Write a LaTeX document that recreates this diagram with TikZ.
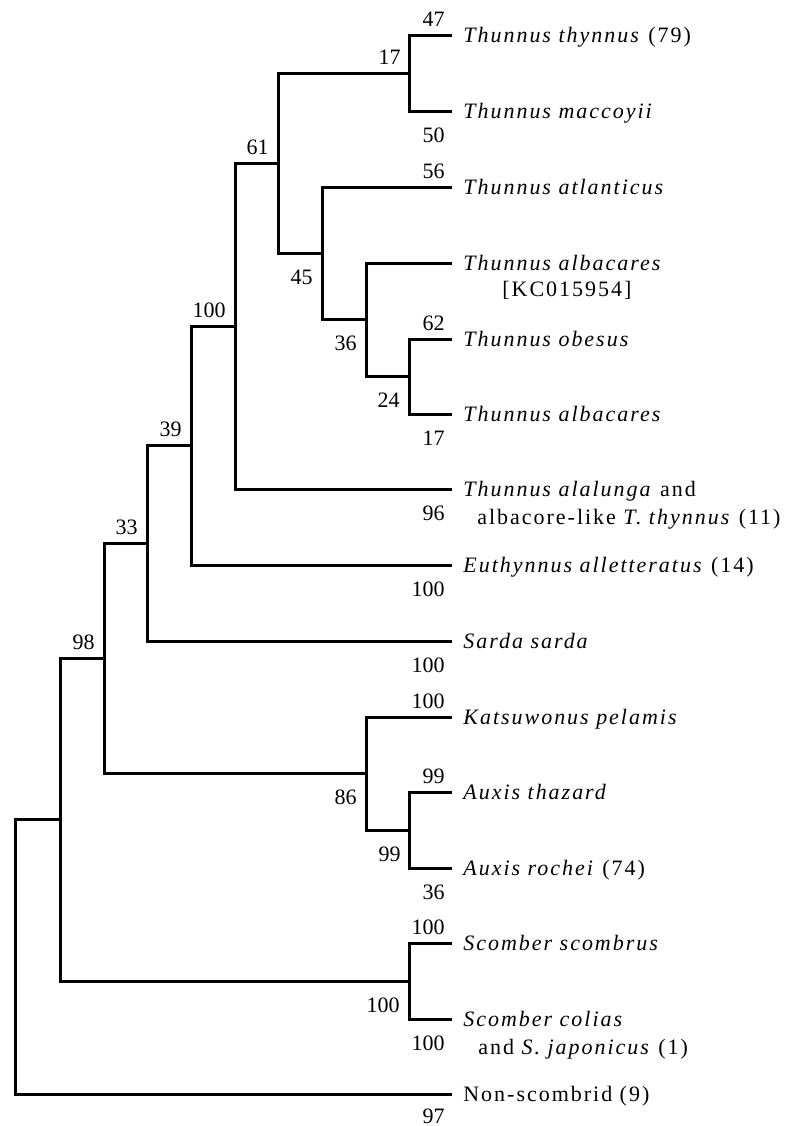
\documentclass[tikz,border=0pt]{standalone}
\usepackage{fontspec}
\setmainfont{Liberation Serif}
\newfontfamily\taxfont{Liberation Serif}[LetterSpace=9]
\usetikzlibrary{positioning}

\tikzset{
  branch/.style={line width=1.5pt},
  taxon/.style={anchor=base west,inner sep=0pt,xshift=5.5pt,yshift=-3.5pt,
    font=\taxfont\fontsize{11}{14}\selectfont},
  taxonline/.style={anchor=base west,inner sep=0pt,
    font=\taxfont\fontsize{11}{14}\selectfont},
  supup/.style={anchor=base east,inner sep=0pt,yshift=4.5pt,
    font=\fontsize{11}{13}\selectfont},
  supdown/.style={anchor=base east,inner sep=0pt,yshift=-15.5pt,
    font=\fontsize{11}{13}\selectfont},
}

\begin{document}
\begin{tikzpicture}[x=.5pt,y=-.5pt]
\useasboundingbox (0,0) rectangle (808,1126);
% tips
\coordinate (t1) at (452,35);
\coordinate (t2) at (452,111);
\coordinate (t3) at (452,187);
\coordinate (t4) at (452,263);
\coordinate (t5) at (452,339);
\coordinate (t6) at (452,414);
\coordinate (t7) at (452,489);
\coordinate (t8) at (452,565);
\coordinate (t9) at (452,641);
\coordinate (t10) at (452,717);
\coordinate (t11) at (452,792);
\coordinate (t12) at (452,868);
\coordinate (t13) at (452,943);
\coordinate (t14) at (452,1019);
\coordinate (t15) at (452,1094);
% inner nodes
\coordinate (g) at (409,73);
\coordinate (j) at (409,376.5);
\coordinate (i) at (366,319.7);
\coordinate (h) at (322,253.4);
\coordinate (f) at (278,163.2);
\coordinate (e) at (235,326);
\coordinate (d) at (191,445.5);
\coordinate (c) at (147,543);
\coordinate (l) at (409,830);
\coordinate (k) at (366,773.5);
\coordinate (b) at (104,658);
\coordinate (m) at (409,981);
\coordinate (a) at (60,819.5);
\coordinate (r) at (15,957);
% branches
\draw[branch] (t1) -| (g) |- (t2);
\draw[branch] (t5) -| (j) |- (t6);
\draw[branch] (t4) -| (i) |- (j);
\draw[branch] (t3) -| (h) |- (i);
\draw[branch] (g) -| (f) |- (h);
\draw[branch] (f) -| (e) |- (t7);
\draw[branch] (e) -| (d) |- (t8);
\draw[branch] (d) -| (c) |- (t9);
\draw[branch] (t11) -| (l) |- (t12);
\draw[branch] (t10) -| (k) |- (l);
\draw[branch] (c) -| (b) |- (k);
\draw[branch] (t13) -| (m) |- (t14);
\draw[branch] (b) -| (a) |- (m);
\draw[branch] (a) -| (r) |- (t15);
% taxa
\node[taxon] (n1) at (t1) {\textit{Thunnus thynnus} (79)};
\node[taxon] (n2) at (t2) {\textit{Thunnus maccoyii}};
\node[taxon] (n3) at (t3) {\textit{Thunnus atlanticus}};
\node[taxon] (n4) at (t4) {\textit{Thunnus albacares}};
\node[taxonline] (n4b) at ([xshift=19.5pt,yshift=-13pt]n4.base west) {[KC015954]};
\node[taxon] (n5) at (t5) {\textit{Thunnus obesus}};
\node[taxon] (n6) at (t6) {\textit{Thunnus albacares}};
\node[taxon] (n7) at (t7) {\textit{Thunnus alalunga} and};
\node[taxonline] (n7b) at ([xshift=7pt,yshift=-14pt]n7.base west) {albacore-like \textit{T. thynnus} (11)};
\node[taxon] (n8) at (t8) {\textit{Euthynnus alletteratus} (14)};
\node[taxon] (n9) at (t9) {\textit{Sarda sarda}};
\node[taxon] (n10) at (t10) {\textit{Katsuwonus pelamis}};
\node[taxon] (n11) at (t11) {\textit{Auxis thazard}};
\node[taxon] (n12) at (t12) {\textit{Auxis rochei} (74)};
\node[taxon] (n13) at (t13) {\textit{Scomber scombrus}};
\node[taxon] (n14) at (t14) {\textit{Scomber colias}};
\node[taxonline] (n14b) at ([xshift=7.5pt,yshift=-14pt]n14.base west) {and \textit{S. japonicus} (1)};
\node[taxon] (n15) at (t15) {Non-scombrid (9)};
% support at tips
\node[supup] (s1) at ([xshift=-3.5pt]t1) {47};
\node[supdown] (s2) at ([xshift=-3.5pt]t2) {50};
\node[supup] (s3) at ([xshift=-3.5pt]t3) {56};
\node[supup] (s5) at ([xshift=-3.5pt]t5) {62};
\node[supdown] (s6) at ([xshift=-3.5pt]t6) {17};
\node[supdown] (s7) at ([xshift=-3.5pt]t7) {96};
\node[supdown] (s8) at ([xshift=-3.5pt]t8) {100};
\node[supdown] (s9) at ([xshift=-3.5pt]t9) {100};
\node[supup] (s10) at ([xshift=-3.5pt]t10) {100};
\node[supup] (s11) at ([xshift=-3.5pt]t11) {99};
\node[supdown] (s12) at ([xshift=-3.5pt]t12) {36};
\node[supup] (s13) at ([xshift=-3.5pt]t13) {100};
\node[supdown] (s14) at ([xshift=-3.5pt]t14) {100};
\node[supdown] (s15) at ([xshift=-3.5pt,yshift=1pt]t15) {97};
% support at inner nodes
\node[supup] (sg) at ([xshift=-4pt]g) {17};
\node[supup] (sf) at ([xshift=-4.5pt]f) {61};
\node[supdown] (sh) at ([xshift=-4.5pt]h) {45};
\node[supdown] (si) at ([xshift=-4.5pt]i) {36};
\node[supdown] (sj) at ([xshift=-4.5pt]j) {24};
\node[supup] (se) at ([xshift=-4.5pt]e) {100};
\node[supup] (sd) at ([xshift=-4.5pt]d) {39};
\node[supup] (sc) at ([xshift=-4.5pt]c) {33};
\node[supup] (sb) at ([xshift=-4.5pt]b) {98};
\node[supdown] (sk) at ([xshift=-4.5pt]k) {86};
\node[supdown] (sl) at ([xshift=-4pt]l) {99};
\node[supdown] (sm) at ([xshift=-4.5pt]m) {100};
\end{tikzpicture}
\end{document}
